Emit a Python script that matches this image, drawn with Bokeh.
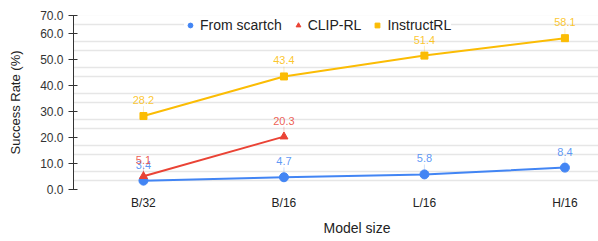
from bokeh.plotting import figure
from bokeh.models import (Range1d, FixedTicker, Legend, LegendItem, Title,
                          ColumnDataSource, LabelSet)
from bokeh.core.properties import value
from bokeh.embed import file_html
from bokeh.resources import INLINE

# ---- data ----
models = ["B/32", "B/16", "L/16", "H/16"]
scratch = [3.4, 4.7, 5.8, 8.4]
clip_rl = [5.1, 20.3]
instruct_rl = [28.2, 43.4, 51.4, 58.1]
y_tick_values = [0, 10, 20, 30, 40, 50, 60]
y_tick_labels = ["0.0", "10.0", "20.0", "30.0", "40.0", "50.0", "60.0"]
series_names = ["From scartch", "CLIP-RL", "InstructRL"]
x_title = "Model size"
y_title = "Success Rate (%)"

BLUE = "#4285F4"
RED = "#EA4335"
YELLOW = "#FBBC04"
FONT = "Liberation Sans"

y_top = 66.8
xs = list(range(len(models)))

p = figure(width=598, height=241, output_backend="svg", toolbar_location=None,
           x_range=Range1d(-0.498, 3.239), y_range=Range1d(0, y_top),
           min_border_left=73, min_border_right=0, min_border_top=15,
           min_border_bottom=0, outline_line_color=None)

# axes
ticks = y_tick_values + [y_top]
p.yaxis.ticker = FixedTicker(ticks=ticks)
overrides = {v: l for v, l in zip(y_tick_values, y_tick_labels)}
overrides[y_top] = "70.0"
p.yaxis.major_label_overrides = overrides
p.yaxis.axis_line_color = "#333333"
p.yaxis.major_tick_line_color = "#333333"
p.yaxis.major_tick_in = 4
p.yaxis.major_tick_out = 5
p.yaxis.minor_tick_line_color = None
p.yaxis.major_label_text_font = FONT
p.yaxis.major_label_text_font_size = "12px"
p.yaxis.major_label_text_color = "#333333"
p.yaxis.major_label_standoff = 5
p.yaxis.axis_label = y_title
p.yaxis.axis_label_text_font = FONT
p.yaxis.axis_label_text_font_size = "13px"
p.yaxis.axis_label_text_font_style = "normal"
p.yaxis.axis_label_text_color = "#222222"
p.yaxis.axis_label_standoff = 14

p.xaxis.ticker = FixedTicker(ticks=xs)
p.xaxis.major_label_overrides = {i: m for i, m in enumerate(models)}
p.xaxis.axis_line_color = None
p.xaxis.major_tick_line_color = None
p.xaxis.major_tick_out = 0
p.xaxis.major_tick_in = 0
p.xaxis.minor_tick_line_color = None
p.xaxis.major_label_text_font = FONT
p.xaxis.major_label_text_font_size = "12px"
p.xaxis.major_label_text_color = "#222222"
p.xaxis.major_label_standoff = 6

p.add_layout(Title(text=x_title, align="left", offset=250,
                   text_font=FONT, text_font_size="14px",
                   text_font_style="normal", text_color="#222222",
                   standoff=11), "below")

# grid
p.xgrid.grid_line_color = None
grid_vals = []
for k in range(7):
    grid_vals += [3.5 + 10 * k, 7.0 + 10 * k]
p.ygrid.ticker = FixedTicker(ticks=grid_vals)
p.ygrid.grid_line_color = "#e6e6e6"
p.ygrid.grid_line_width = 1.5

# series
def series(x, y, color, marker, size, dy):
    src = ColumnDataSource(dict(x=x, y=y, y1=[v + dy for v in y],
                                t=["%.1f" % v for v in y]))
    p.line("x", "y", source=src, line_color=color, line_width=2)
    p.segment(x0="x", y0="y", x1="x", y1="y1", source=src,
              line_color=color, line_alpha=0.25, line_width=1)
    r = p.scatter("x", "y", source=src, marker=marker, size=size,
                  fill_color=color, line_color=color)
    lab = LabelSet(x="x", y="y", text="t", source=src, y_offset=16,
                   text_align="center", text_baseline="middle",
                   text_font=value(FONT), text_font_size="11px",
                   text_color=color, text_alpha=0.85)
    p.add_layout(lab)
    return r

r1 = series(xs, scratch, BLUE, "circle", 9, 3.8)
r2 = series(xs[:len(clip_rl)], clip_rl, RED, "triangle", 8, 3.8)
r3 = series(xs, instruct_rl, YELLOW, "square", 7, 3.8)

legend = Legend(items=[LegendItem(label=series_names[0], renderers=[r1]),
                       LegendItem(label=series_names[1], renderers=[r2]),
                       LegendItem(label=series_names[2], renderers=[r3])],
                orientation="horizontal", location=(111, 156),
                label_text_font=FONT, label_text_font_size="14px",
                label_text_color="#222222", glyph_width=12, glyph_height=12,
                label_standoff=4, spacing=10, padding=2, margin=0,
                border_line_color=None, background_fill_alpha=1)
p.add_layout(legend, "center")

open("out.html", "w").write(file_html(p, INLINE))
